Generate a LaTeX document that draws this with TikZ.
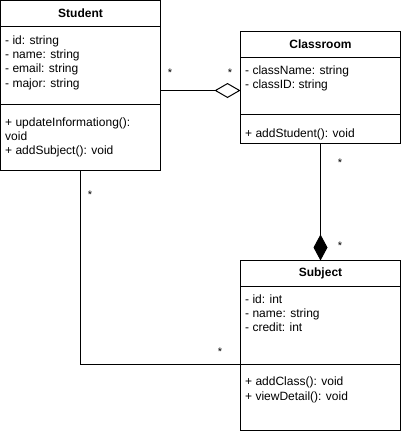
\documentclass[tikz,border=0pt]{standalone}
\usepackage{fontspec}
\setmainfont{Liberation Sans}
\usetikzlibrary{arrows.meta}
\begin{document}
\begin{tikzpicture}[x=1pt,y=-1pt,
  classbox/.style={draw, line width=1pt, minimum width=160pt, inner sep=0pt, outer sep=0pt, anchor=north west},
  sepline/.style={line width=1pt},
  conn/.style={line width=1pt},
  txt/.style={anchor=base west, inner sep=0pt, font=\fontsize{12pt}{14.4pt}\selectfont},
  ttl/.style={inner sep=0pt, font=\fontsize{12pt}{14.4pt}\selectfont\bfseries},
  mult/.style={anchor=base, inner sep=0pt, font=\fontsize{11pt}{13pt}\selectfont}]
\useasboundingbox (0,0) rectangle (401,434);

% boxes
\node[classbox, minimum height=170pt] (student) at (0.5,0.5) {};
\node[classbox, minimum height=112pt] (classroom) at (240.5,31.5) {};
\node[classbox, minimum height=170pt] (subject) at (240.5,260.5) {};

% separators
\draw[sepline] ([yshift=-26pt]student.north west) -- ([yshift=-26pt]student.north east);
\draw[sepline] ([yshift=-104pt]student.north west) -- ([yshift=-104pt]student.north east);
\draw[sepline] ([yshift=-26pt]classroom.north west) -- ([yshift=-26pt]classroom.north east);
\draw[sepline] ([yshift=-83pt]classroom.north west) -- ([yshift=-83pt]classroom.north east);
\draw[sepline] ([yshift=-26pt]subject.north west) -- ([yshift=-26pt]subject.north east);
\draw[sepline] ([yshift=-104pt]subject.north west) -- ([yshift=-104pt]subject.north east);

% titles
\node[ttl] (studentT) at ([yshift=-13pt]student.north) {Student};
\node[ttl] (classroomT) at ([yshift=-13pt]classroom.north) {Classroom};
\node[ttl] (subjectT) at ([yshift=-13pt]subject.north) {Subject};

% Student members
\node[txt] (s1) at (5,44) {- id: string};
\node[txt] (s2) at (5,58.4) {- name: string};
\node[txt] (s3) at (5,72.8) {- email: string};
\node[txt] (s4) at (5,87.2) {- major: string};
\node[txt] (s5) at (5,126) {+ updateInformationg():};
\node[txt] (s6) at (5,140.4) {void};
\node[txt] (s7) at (5,154.8) {+ addSubject(): void};

% Classroom members
\node[txt] (c1) at (245,74.5) {- className: string};
\node[txt] (c2) at (245,88.9) {- classID: string};
\node[txt] (c3) at (245,137) {+ addStudent(): void};

% Subject members
\node[txt] (j1) at (245,303) {- id: int};
\node[txt] (j2) at (245,317.4) {- name: string};
\node[txt] (j3) at (245,331.8) {- credit: int};
\node[txt] (j4) at (245,385.5) {+ addClass(): void};
\node[txt] (j5) at (245,400) {+ viewDetail(): void};

% connectors
\coordinate (aggL) at ([yshift=-5pt]student.east);
\draw[conn, -{Diamond[open, length=26pt, width=15pt, line width=1pt]}] (aggL) -- (aggL -| classroom.west);
\draw[conn, -{Diamond[length=26pt, width=14pt]}] (classroom.south) -- (subject.north);
\coordinate (assocR) at ([yshift=-104pt]subject.north west);
\draw[conn] (student.south) |- (assocR);

% multiplicities
\node[mult] (m1) at (170,76.3) {*};
\node[mult] (m2) at (230,76.3) {*};
\node[mult] (m3) at (340,166.3) {*};
\node[mult] (m4) at (340,249.3) {*};
\node[mult] (m5) at (90,198.3) {*};
\node[mult] (m6) at (220,355.3) {*};
\end{tikzpicture}
\end{document}
